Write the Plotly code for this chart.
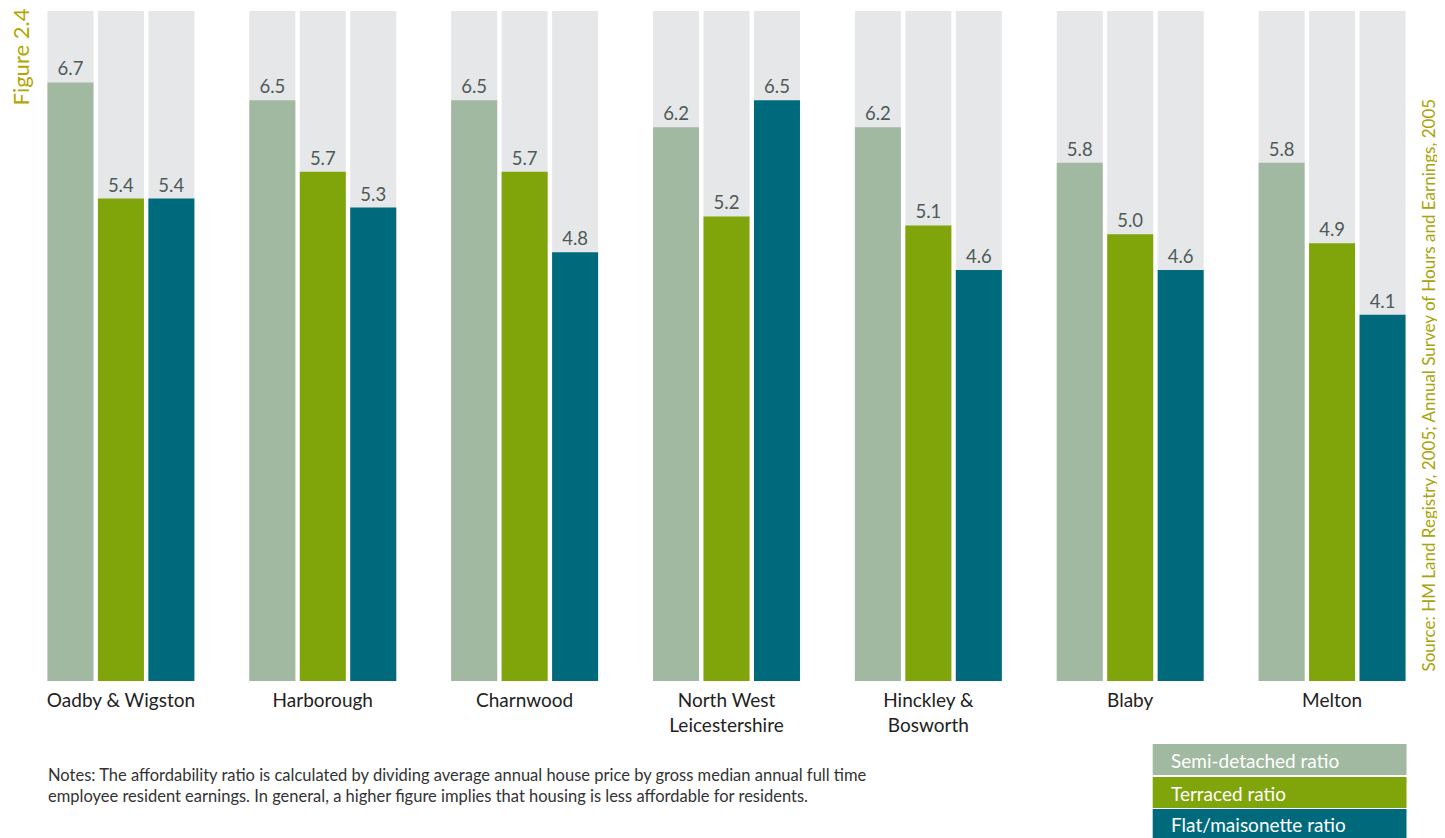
import plotly.graph_objects as go

districts = ["Oadby & Wigston", "Harborough", "Charnwood", "North West<br>Leicestershire",
             "Hinckley &<br>Bosworth", "Blaby", "Melton"]
semi = [6.7, 6.5, 6.5, 6.2, 6.2, 5.8, 5.8]
terraced = [5.4, 5.7, 5.7, 5.2, 5.1, 5.0, 4.9]
flat = [5.4, 5.3, 4.8, 6.5, 4.6, 4.6, 4.1]
scale_max = 7.5
series_names = ["Semi-detached ratio", "Terraced ratio", "Flat/maisonette ratio"]
colors = ["#a0b9a0", "#7fa50b", "#006a7d"]
grey = "#e6e7e9"

x = list(range(len(districts)))
w = 0.228
offsets = [-0.25 - w / 2, -w / 2, 0.25 - w / 2]
font = "Lato"

# page body has 8px margin -> figure coordinates = page coordinates - 8
PX0, PY0 = 8, 8
L, T, R, B = 19.5 - PX0, 11 - PY0, 1433.5 - PX0, 681 - PY0
PW, PH = R - L, B - T


def px(xp):
    return (xp - PX0 - L) / PW


def py(yp):
    return (B - (yp - PY0)) / PH


fig = go.Figure()
for off in offsets:
    fig.add_trace(go.Bar(x=x, y=[scale_max] * len(x), offset=off, width=w,
                         marker=dict(color=grey, line=dict(width=0)),
                         hoverinfo="skip", showlegend=False))
for vals, name, col, off in zip([semi, terraced, flat], series_names, colors, offsets):
    fig.add_trace(go.Bar(x=x, y=vals, offset=off, width=w, name=name,
                         marker=dict(color=col, line=dict(width=0)),
                         text=[f"{v:.1f}" for v in vals], textposition="outside",
                         textfont=dict(family=font, size=18.5, color="#4d5a58"),
                         cliponaxis=False, showlegend=False))

fig.update_layout(
    barmode="overlay",
    width=1445, height=838,
    margin=dict(l=L, r=1445 - R, t=T, b=838 - B),
    paper_bgcolor="white", plot_bgcolor="white",
    font=dict(family=font),
    xaxis=dict(tickmode="array", tickvals=x, ticktext=districts, range=[-0.5, 6.5],
               showgrid=False, zeroline=False, showline=False, ticks="",
               ticklabelstandoff=6,
               tickfont=dict(family=font, size=19, color="#222222")),
    yaxis=dict(range=[0, scale_max], visible=False, showgrid=False, zeroline=False),
)

# Legend boxes
rows_y = [(744, 775), (777, 808), (809, 838)]
for (y0, y1), name, col in zip(rows_y, series_names, colors):
    fig.add_shape(type="rect", xref="paper", yref="paper",
                  x0=px(1153), x1=px(1407), y0=py(y1), y1=py(y0),
                  fillcolor=col, line=dict(width=0), layer="above")
    fig.add_annotation(xref="paper", yref="paper",
                       x=px(1169), y=py((y0 + y1) / 2 + 1),
                       text=name, showarrow=False, xanchor="left", yanchor="middle",
                       font=dict(family=font, size=19, color="white"))

fig.add_annotation(xref="paper", yref="paper", x=px(19), y=py(57),
                   text="Figure 2.4", textangle=-90, showarrow=False,
                   xanchor="center", yanchor="middle",
                   font=dict(family=font, size=22, color="#b3a600"))
fig.add_annotation(xref="paper", yref="paper", x=px(1428), y=py(385),
                   text="Source: HM Land Registry, 2005; Annual Survey of Hours and Earnings, 2005",
                   textangle=-90, showarrow=False, xanchor="center", yanchor="middle",
                   font=dict(family=font, size=17, color="#a9a40a"))
fig.add_annotation(xref="paper", yref="paper", x=px(46), y=py(785),
                   text="Notes: The affordability ratio is calculated by dividing average annual house price by gross median annual full time<br>"
                        "employee resident earnings. In general, a higher figure implies that housing is less affordable for residents.",
                   showarrow=False, xanchor="left", yanchor="middle", align="left",
                   font=dict(family=font, size=16.5, color="#333333"))

fig.write_html("out.html")
